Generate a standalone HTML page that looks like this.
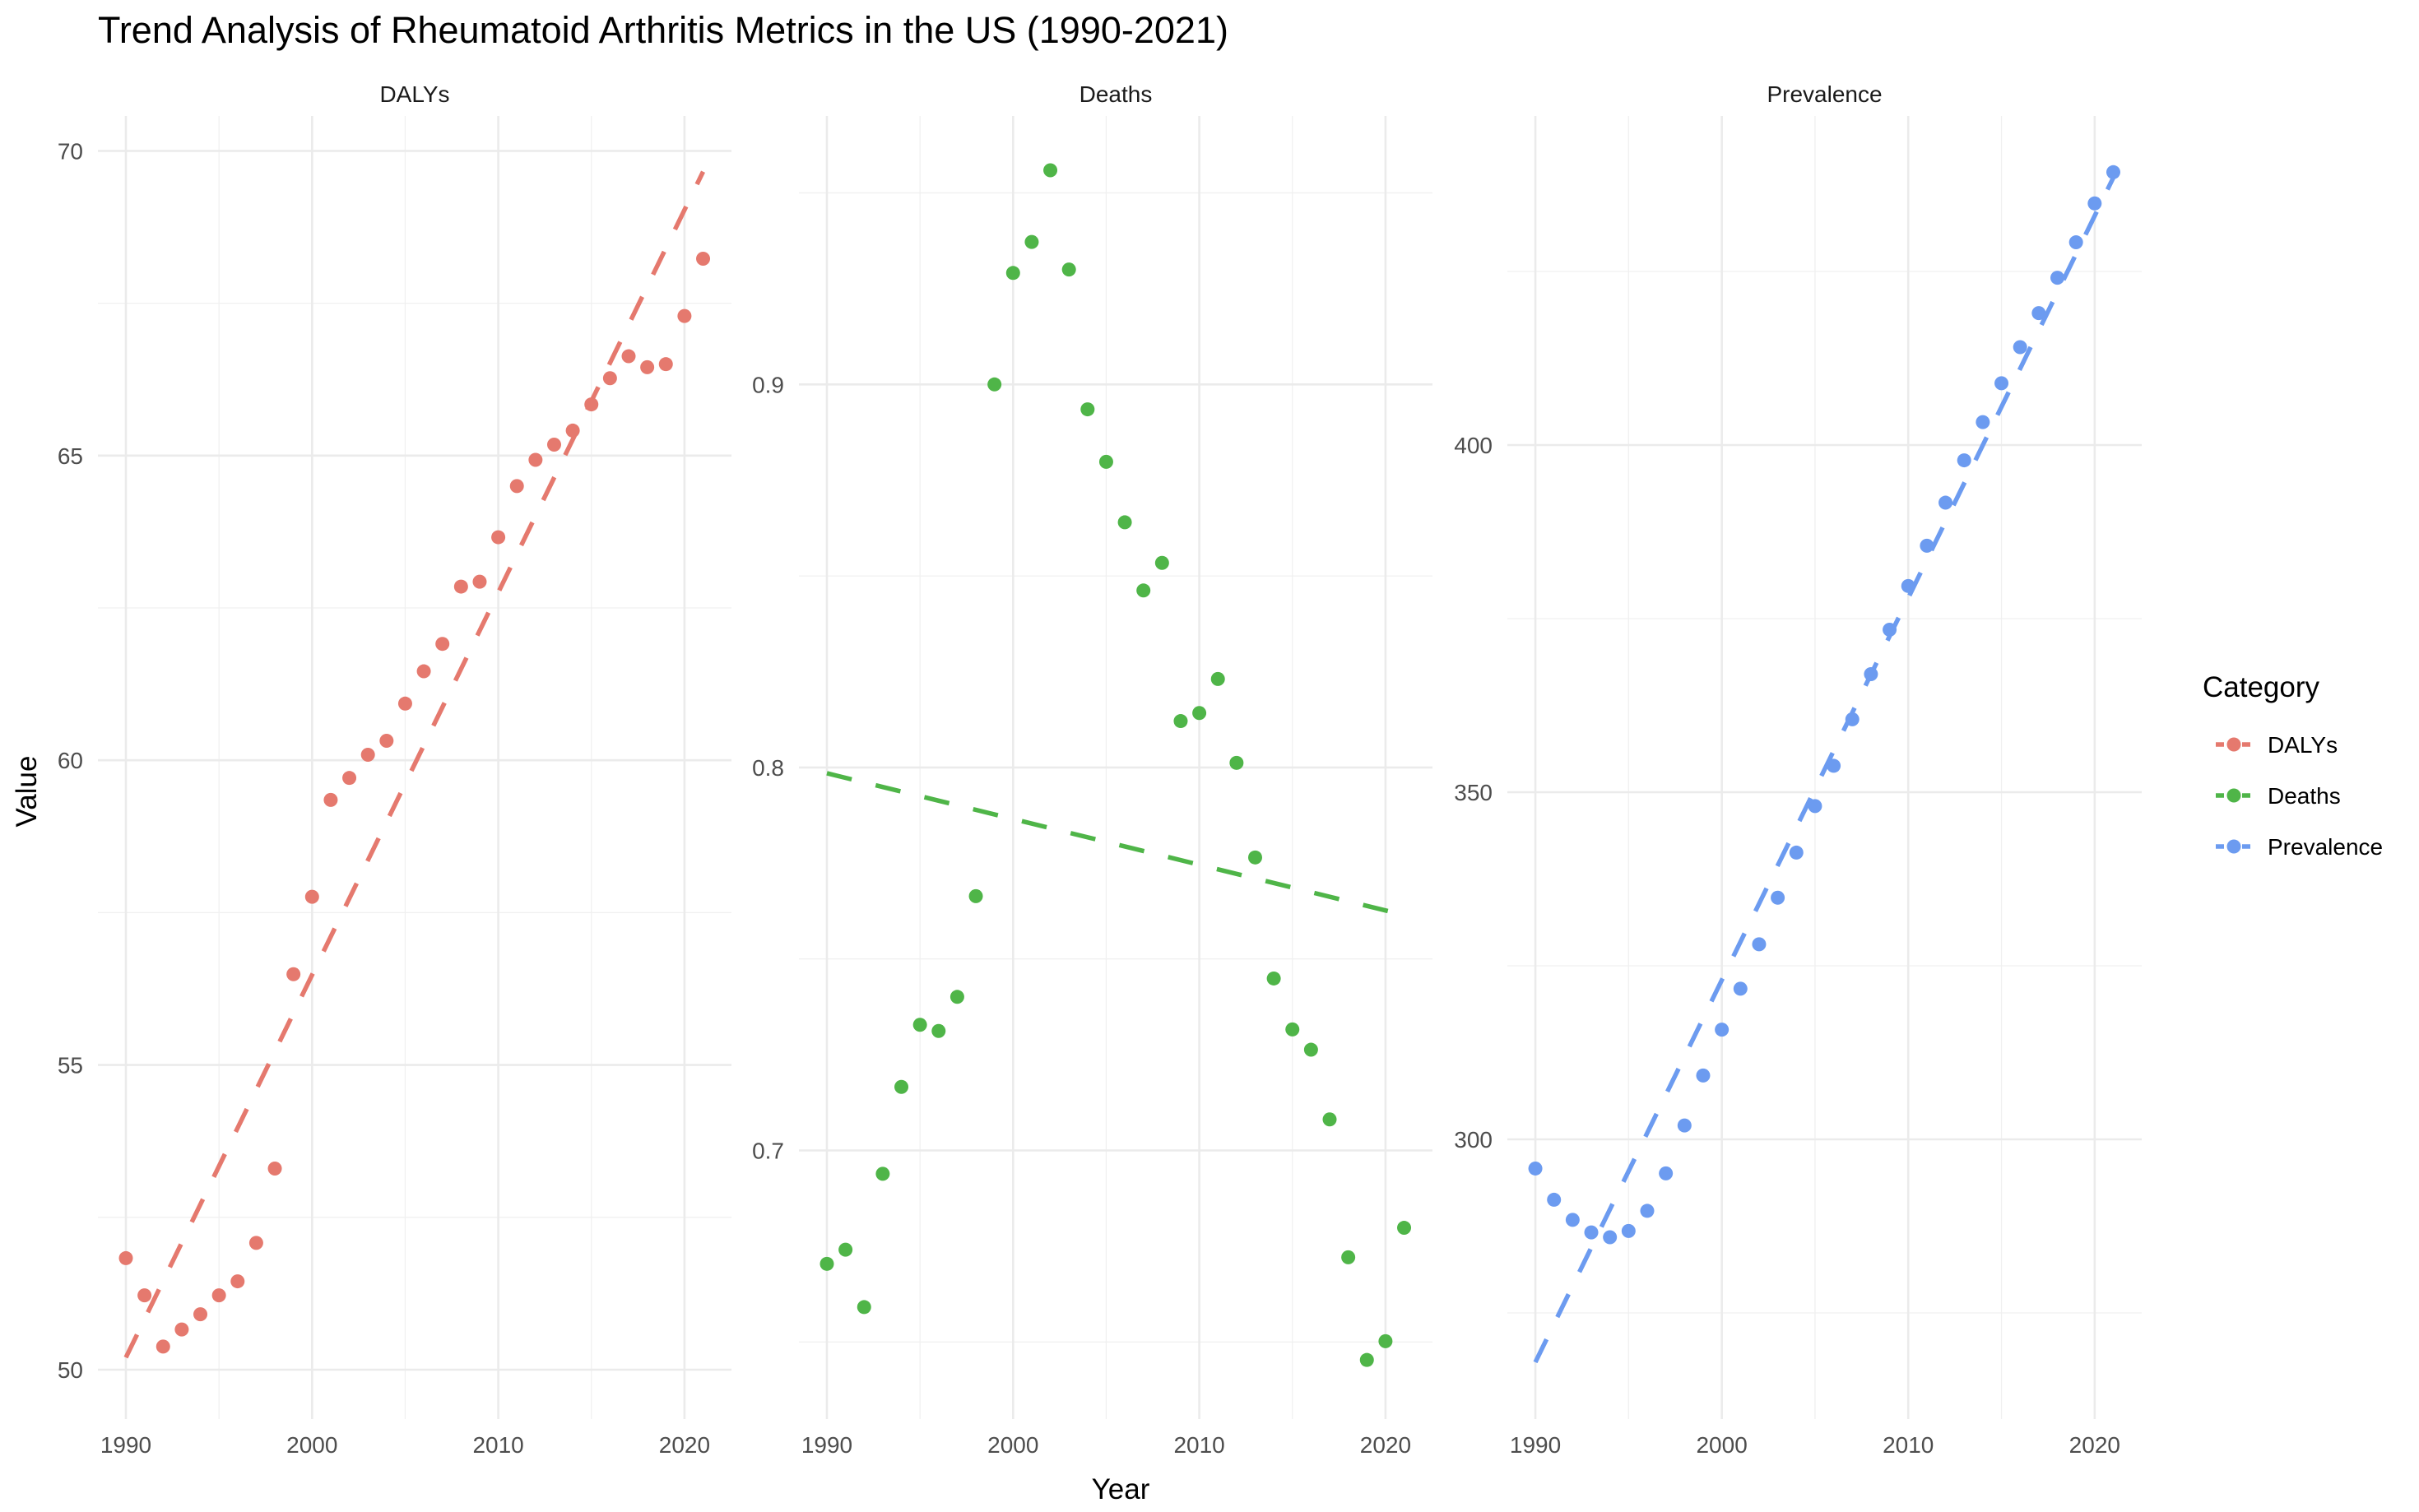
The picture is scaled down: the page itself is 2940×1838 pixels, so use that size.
<!DOCTYPE html>
<html><head><meta charset="utf-8"><style>
html,body{margin:0;padding:0;background:#fff;}
svg{display:block;font-family:"Liberation Sans",sans-serif;}
</style></head><body>
<svg id="chart" width="2940" height="1838" viewBox="0 0 2940 1838" xmlns="http://www.w3.org/2000/svg">
<text x="119" y="52" font-size="45" fill="#000">Trend Analysis of Rheumatoid Arthritis Metrics in the US (1990-2021)</text>
<text transform="translate(44,962) rotate(-90)" text-anchor="middle" font-size="35" fill="#000">Value</text>
<text x="1362" y="1822" text-anchor="middle" font-size="35" fill="#000">Year</text>
<g id="panels"></g>
<g id="legend">
<text x="2677" y="847" font-size="35" fill="#000">Category</text>
</g>
</svg>
<script>
const years = [1990,1991,1992,1993,1994,1995,1996,1997,1998,1999,2000,2001,2002,2003,2004,2005,2006,2007,2008,2009,2010,2011,2012,2013,2014,2015,2016,2017,2018,2019,2020,2021];
const dalys = [51.83,51.22,50.38,50.66,50.91,51.22,51.45,52.08,53.30,56.49,57.76,59.35,59.71,60.09,60.32,60.93,61.46,61.91,62.85,62.93,63.66,64.50,64.93,65.18,65.41,65.84,66.27,66.63,66.45,66.50,67.29,68.23];
const deaths = [0.6704,0.6741,0.6591,0.6939,0.7166,0.7328,0.7312,0.7401,0.7664,0.900,0.9291,0.9372,0.9559,0.930,0.8935,0.8798,0.864,0.8462,0.8534,0.8121,0.8142,0.8231,0.8012,0.7765,0.7449,0.7316,0.7263,0.7081,0.6721,0.6453,0.6502,0.6798];
const prevalence = [295.8,291.3,288.4,286.6,285.9,286.8,289.7,295.1,302.0,309.2,315.8,321.7,328.1,334.8,341.3,348.0,353.8,360.5,367.0,373.4,379.7,385.5,391.7,397.8,403.3,408.9,414.1,419.0,424.1,429.2,434.8,439.3];
const categories = ["DALYs","Deaths","Prevalence"];
const xTicks = [1990,2000,2010,2020];
const xMinor = [1995,2005,2015];
const dalysTicks = [50,55,60,65,70];
const dalysMinor = [52.5,57.5,62.5,67.5];
const deathsTicks = [0.7,0.8,0.9];
const deathsMinor = [0.65,0.75,0.85,0.95];
const prevTicks = [300,350,400];
const prevMinor = [275,325,375,425];

const NS="http://www.w3.org/2000/svg";
function mk(tag, attrs, parent){const e=document.createElementNS(NS,tag);for(const k in attrs)e.setAttribute(k,attrs[k]);parent.appendChild(e);return e;}
const colors=["#E5796E","#4FB548","#6C9BF0"];
const plotTop=141,plotBottom=1725;
const panels=[
 {name:"dalys",vals:dalys,ticks:dalysTicks,minor:dalysMinor,left:119,right:889,ref1:70,py1:183.4,ref2:50,py2:1665,fmt:v=>String(v)},
 {name:"deaths",vals:deaths,ticks:deathsTicks,minor:deathsMinor,left:971,right:1741,ref1:0.9,py1:467.3,ref2:0.7,py2:1398.5,fmt:v=>v.toFixed(1)},
 {name:"prevalence",vals:prevalence,ticks:prevTicks,minor:prevMinor,left:1832,right:2603,ref1:400,py1:541,ref2:300,py2:1385,fmt:v=>String(v)}
];
const root=document.getElementById('panels');
panels.forEach((p,i)=>{
  const g=mk('g',{},root);
  
  
  const x0=p.left+(1005-971)*(p.right-p.left)/770;
  const pxPerYear=(p.right-p.left)*22.63/770;
  const xs=y=>x0+(y-1990)*pxPerYear;
  const ys=v=>p.py1+(p.ref1-v)*(p.py2-p.py1)/(p.ref1-p.ref2);
  xMinor.forEach(t=>{const l=mk('line',{x1:xs(t),x2:xs(t),y1:plotTop,y2:plotBottom,stroke:"#f0f0f0","stroke-width":1.3},g);
    
    });
  p.minor.forEach(t=>{const l=mk('line',{x1:p.left,x2:p.right,y1:ys(t),y2:ys(t),stroke:"#f0f0f0","stroke-width":1.3},g);
    
    });
  xTicks.forEach(t=>{const l=mk('line',{x1:xs(t),x2:xs(t),y1:plotTop,y2:plotBottom,stroke:"#ebebeb","stroke-width":2.6},g);
    
    
    const tx=mk('text',{x:xs(t),y:1766,"text-anchor":"middle","font-size":28,fill:"#4d4d4d"},g);tx.textContent=t;
    
    });
  p.ticks.forEach(t=>{const l=mk('line',{x1:p.left,x2:p.right,y1:ys(t),y2:ys(t),stroke:"#ebebeb","stroke-width":2.6},g);
    
    
    const tx=mk('text',{x:p.left-18,y:ys(t)+10,"text-anchor":"end","font-size":28,fill:"#4d4d4d"},g);tx.textContent=p.fmt(t);
    
    });
  const st=mk('text',{x:(p.left+p.right)/2,y:124,"text-anchor":"middle","font-size":28,fill:"#1a1a1a"},g);st.textContent=categories[i];
  
  
  const n=years.length;let sx=0,sy=0,sxx=0,sxy=0;
  years.forEach((y,k)=>{sx+=y;sy+=p.vals[k];sxx+=y*y;sxy+=y*p.vals[k];});
  const b=(n*sxy-sx*sy)/(n*sxx-sx*sx),a=(sy-b*sx)/n;
  const y1=years[0],y2=years[n-1];
  const tl=mk('line',{x1:xs(y1),y1:ys(a+b*y1),x2:xs(y2),y2:ys(a+b*y2),stroke:colors[i],"stroke-width":5.5,"stroke-dasharray":"31 30"},g);
  
  
  years.forEach((y,k)=>{const c=mk('circle',{cx:xs(y),cy:ys(p.vals[k]),r:8.5,fill:colors[i]},g);
    
    });
});
const lg=document.getElementById('legend');
categories.forEach((c,i)=>{
  const yy=905+i*62;
  const e=mk('g',{},lg);
  
  
  mk('line',{x1:2693,x2:2737,y1:yy,y2:yy,stroke:colors[i],"stroke-width":5.5,"stroke-dasharray":"10 6"},e);
  mk('circle',{cx:2715,cy:yy,r:8.5,fill:colors[i]},e);
  const t=mk('text',{x:2756,y:yy+10,"font-size":28,fill:"#000"},e);t.textContent=c;
});
</script>
</body></html>
